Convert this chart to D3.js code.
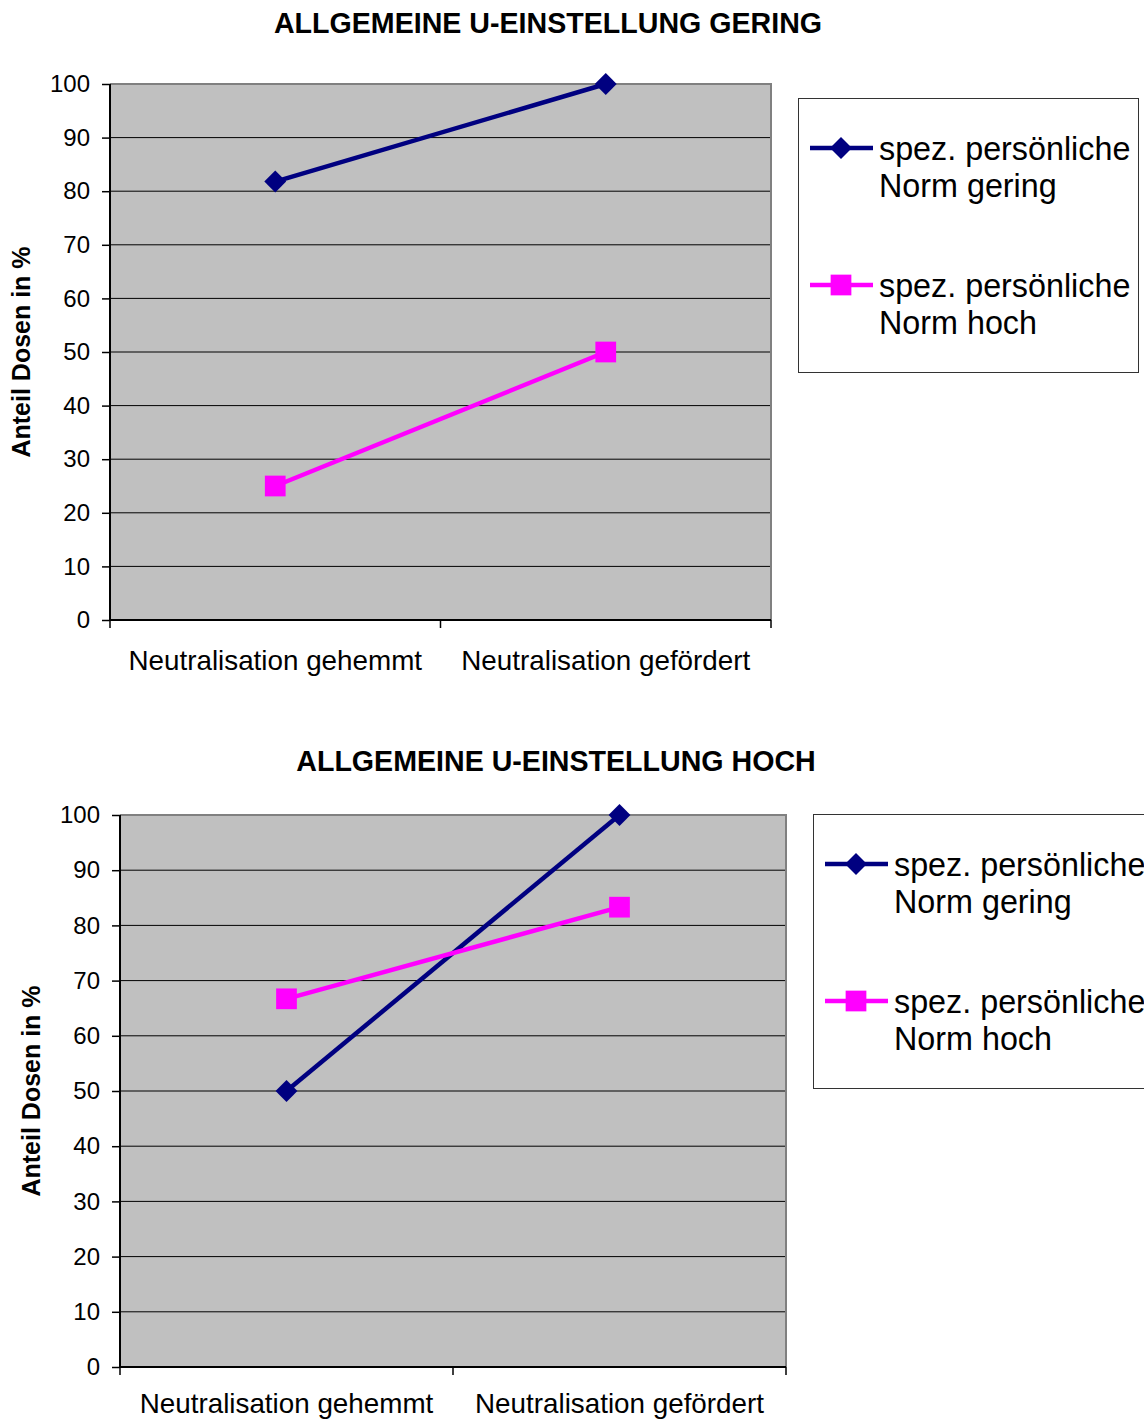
<!DOCTYPE html>
<html>
<head>
<meta charset="utf-8">
<script src="https://cdn.jsdelivr.net/npm/d3@7"></script>
<style>
  body { margin: 0; background: #fff; }
  svg { display: block; font-family: "Liberation Sans", Arial, sans-serif; }
  .grid line { stroke: #000; stroke-width: 1; }
</style>
</head>
<body>
<div id="chart"></div>
<script>
// data
const categories = ['Neutralisation gehemmt', 'Neutralisation gefördert'];
const seriesKeys = ['gering', 'hoch'];
const legendLines = [['spez. persönliche', 'Norm gering'], ['spez. persönliche', 'Norm hoch']];
const seriesColors = ['#000080', '#ff00ff'];
const yTicks = [0, 10, 20, 30, 40, 50, 60, 70, 80, 90, 100];

const titleLow = 'ALLGEMEINE U-EINSTELLUNG GERING';
const geringLow = [81.8, 100];
const hochLow = [25, 50];

const titleHigh = 'ALLGEMEINE U-EINSTELLUNG HOCH';
const geringHigh = [50, 100];
const hochHigh = [66.7, 83.3];

const svg = d3.select('#chart').append('svg')
  .attr('width', 1144).attr('height', 1421);

function drawChart(title, values, box) {
  const {left, right, top, bottom, titleX, titleY, axisTitleX, legX, legY, labelY} = box;
  const g = svg.append('g');

  const x = d3.scaleBand().domain(categories).range([left, right]);
  const y = d3.scaleLinear().domain([0, 100]).range([bottom, top]);

  g.append('text')
    .attr('x', titleX).attr('y', titleY)
    .attr('text-anchor', 'middle')
    .attr('font-size', 28.6).attr('font-weight', 'bold')
    .text(title);

  // plot area
  g.append('rect')
    .attr('x', left).attr('y', top)
    .attr('width', right - left).attr('height', bottom - top)
    .attr('fill', '#c0c0c0');

  g.append('g').attr('class', 'grid')
    .selectAll('line').data(yTicks.filter(t => t > 0 && t < 100)).enter()
    .append('line')
    .attr('x1', left).attr('x2', right)
    .attr('y1', d => y(d)).attr('y2', d => y(d));

  // gray top + right border
  g.append('path')
    .attr('d', `M${left},${top}H${right}V${bottom}`)
    .attr('fill', 'none').attr('stroke', '#808080').attr('stroke-width', 2);

  // y axis
  const yAxis = g.append('g')
    .attr('transform', `translate(${left},0)`)
    .call(d3.axisLeft(y).tickValues(yTicks).tickSize(8).tickPadding(12));
  yAxis.select('.domain').attr('stroke', '#000').attr('stroke-width', 2)
    .attr('d', `M0,${top}V${bottom}`);
  yAxis.selectAll('.tick line').attr('stroke', '#000').attr('stroke-width', 1.5);
  yAxis.selectAll('.tick text')
    .attr('font-size', 24).attr('fill', '#000')
    .attr('font-family', '"Liberation Sans", Arial, sans-serif');

  // x axis, ticks on the category boundaries
  const xAxis = g.append('g').attr('transform', `translate(0,${bottom})`);
  xAxis.append('path')
    .attr('d', `M${left},0H${right}`)
    .attr('stroke', '#000').attr('stroke-width', 2);
  const bounds = [left, ...categories.map(c => x(c) + x.bandwidth())];
  xAxis.selectAll('line.tk').data(bounds).enter().append('line')
    .attr('class', 'tk')
    .attr('x1', d => d).attr('x2', d => d)
    .attr('y1', 0).attr('y2', 8)
    .attr('stroke', '#000').attr('stroke-width', 1.5);
  xAxis.selectAll('text').data(categories).enter().append('text')
    .attr('x', d => x(d) + x.bandwidth() / 2).attr('y', labelY)
    .attr('text-anchor', 'middle')
    .attr('font-size', 27.8)
    .text(d => d);

  g.append('text')
    .attr('transform', `translate(${axisTitleX},${(top + bottom) / 2}) rotate(-90)`)
    .attr('text-anchor', 'middle')
    .attr('font-size', 25).attr('font-weight', 'bold')
    .text('Anteil Dosen in %');

  // series
  const line = d3.line().x(d => x(d.cat) + x.bandwidth() / 2).y(d => y(d.v));
  seriesKeys.forEach((k, i) => {
    const pts = categories.map((c, j) => ({cat: c, v: values[i][j]}));
    g.append('path').datum(pts)
      .attr('d', line)
      .attr('fill', 'none')
      .attr('stroke', seriesColors[i]).attr('stroke-width', 4.5);
    g.selectAll(null).data(pts).enter().append('path')
      .attr('transform', d => `translate(${x(d.cat) + x.bandwidth() / 2},${y(d.v)}) rotate(${i === 0 ? 45 : 0})`)
      .attr('d', d3.symbol(d3.symbolSquare, i === 0 ? 240 : 430))
      .attr('fill', seriesColors[i]);
  });

  // legend
  const leg = g.append('g').attr('transform', `translate(${legX},${legY})`);
  leg.append('rect')
    .attr('x', 0.5).attr('y', 0.5)
    .attr('width', 340).attr('height', 274)
    .attr('fill', '#fff').attr('stroke', '#333').attr('stroke-width', 1);
  seriesKeys.forEach((k, i) => {
    const ly = 50 + i * 137;
    leg.append('line')
      .attr('x1', 12).attr('x2', 75).attr('y1', ly).attr('y2', ly)
      .attr('stroke', seriesColors[i]).attr('stroke-width', 4.5);
    leg.append('path')
      .attr('transform', `translate(43,${ly}) rotate(${i === 0 ? 45 : 0})`)
      .attr('d', d3.symbol(d3.symbolSquare, i === 0 ? 240 : 430))
      .attr('fill', seriesColors[i]);
    leg.append('text')
      .attr('x', 81).attr('y', ly + 12)
      .attr('font-size', 32.3)
      .selectAll('tspan').data(legendLines[i]).enter().append('tspan')
      .attr('x', 81).attr('dy', (d, j) => j === 0 ? 0 : 37)
      .text(d => d);
  });
}

drawChart(titleLow, [geringLow, hochLow], {
  left: 110, right: 771, top: 84, bottom: 620, labelY: 50,
  titleX: 548, titleY: 33, axisTitleX: 30, legX: 798, legY: 98
});

drawChart(titleHigh, [geringHigh, hochHigh], {
  left: 120, right: 786, top: 815, bottom: 1367, labelY: 46,
  titleX: 556, titleY: 771, axisTitleX: 40, legX: 813, legY: 814
});
</script>
</body>
</html>
